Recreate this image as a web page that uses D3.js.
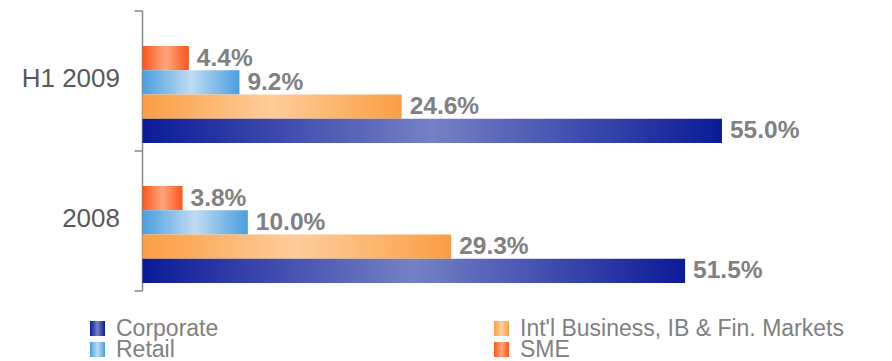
<!DOCTYPE html>
<html>
<head>
<meta charset="utf-8">
<script src="https://cdn.jsdelivr.net/npm/d3@7"></script>
<style>
  html, body { margin: 0; padding: 0; background: #fff; }
  svg { display: block; font-family: "Liberation Sans", Arial, sans-serif; }
</style>
</head>
<body>
<svg id="chart" width="892" height="361"></svg>
<script>
// Loan portfolio split by business line (% of total)
const periods = ["H1 2009", "2008"];
const segments = ["SME", "Retail", "Int'l Business, IB & Fin. Markets", "Corporate"];
const sme = [4.4, 3.8];
const retail = [9.2, 10.0];
const intl = [24.6, 29.3];
const corporate = [55.0, 51.5];
const legendOrder = ["Corporate", "Int'l Business, IB & Fin. Markets", "Retail", "SME"];

const seriesValues = {
  "SME": sme,
  "Retail": retail,
  "Int'l Business, IB & Fin. Markets": intl,
  "Corporate": corporate
};

// Edge / centre colours for the mirrored horizontal gradients
const palette = {
  "Corporate": ["#0b1a97", "#7581c5"],
  "Int'l Business, IB & Fin. Markets": ["#fa9e44", "#fecd9a"],
  "Retail": ["#4a9edf", "#bfdcf2"],
  "SME": ["#fe5519", "#ffa67c"]
};

const svg = d3.select("#chart");
const defs = svg.append("defs");
const gradId = s => "g-" + segments.indexOf(s);
segments.forEach(s => {
  const g = defs.append("linearGradient").attr("id", gradId(s))
    .attr("x1", "0%").attr("x2", "100%").attr("y1", "0%").attr("y2", "0%");
  g.append("stop").attr("offset", "0%").attr("stop-color", palette[s][0]);
  g.append("stop").attr("offset", "50%").attr("stop-color", palette[s][1]);
  g.append("stop").attr("offset", "100%").attr("stop-color", palette[s][0]);
});

const x = d3.scaleLinear().domain([0, 70]).range([142.5, 880]);
const y = d3.scaleBand().domain(periods).range([11, 291]);
const inner = d3.scaleBand().domain(segments).range([35, 132]);

// Category axis
const axisColor = "#868686";
svg.append("line")
  .attr("x1", x(0)).attr("x2", x(0))
  .attr("y1", y.range()[0]).attr("y2", y.range()[1])
  .attr("stroke", axisColor).attr("stroke-width", 1.5);
const tickPos = periods.map(p => y(p)).concat([y.range()[1]]);
svg.selectAll("line.tick").data(tickPos).join("line")
  .attr("class", "tick")
  .attr("x1", x(0) - 8).attr("x2", x(0))
  .attr("y1", d => d).attr("y2", d => d)
  .attr("stroke", axisColor).attr("stroke-width", 1.5);

svg.selectAll("text.cat").data(periods).join("text")
  .attr("class", "cat")
  .attr("x", 120)
  .attr("y", d => y(d) + y.bandwidth() / 2 + 6)
  .attr("text-anchor", "end")
  .attr("font-size", 26)
  .attr("fill", "#595959")
  .text(d => d);

// Bars and value labels
const rows = [];
periods.forEach((p, i) => segments.forEach(s => rows.push({ period: p, segment: s, value: seriesValues[s][i] })));

svg.selectAll("rect.bar").data(rows).join("rect")
  .attr("class", "bar")
  .attr("x", x(0))
  .attr("y", d => y(d.period) + inner(d.segment))
  .attr("width", d => x(d.value) - x(0))
  .attr("height", inner.bandwidth())
  .attr("fill", d => `url(#${gradId(d.segment)})`);

svg.selectAll("text.val").data(rows).join("text")
  .attr("class", "val")
  .attr("x", d => x(d.value) + 8)
  .attr("y", d => y(d.period) + inner(d.segment) + inner.bandwidth() / 2 + 7.5)
  .attr("font-size", 24.5)
  .attr("font-weight", "bold")
  .attr("fill", "#808080")
  .text(d => d.value.toFixed(1) + "%");

// Legend (two columns, two rows)
const legX = [90, 494];
const legY = [321, 342];
const leg = svg.selectAll("g.leg").data(legendOrder).join("g")
  .attr("class", "leg")
  .attr("transform", (d, i) => `translate(${legX[i % 2]},${legY[Math.floor(i / 2)]})`);
leg.append("rect")
  .attr("width", 15).attr("height", 15)
  .attr("fill", d => `url(#${gradId(d)})`);
leg.append("text")
  .attr("x", 26).attr("y", 15)
  .attr("font-size", 23)
  .attr("fill", "#808080")
  .text(d => d);
</script>
</body>
</html>
